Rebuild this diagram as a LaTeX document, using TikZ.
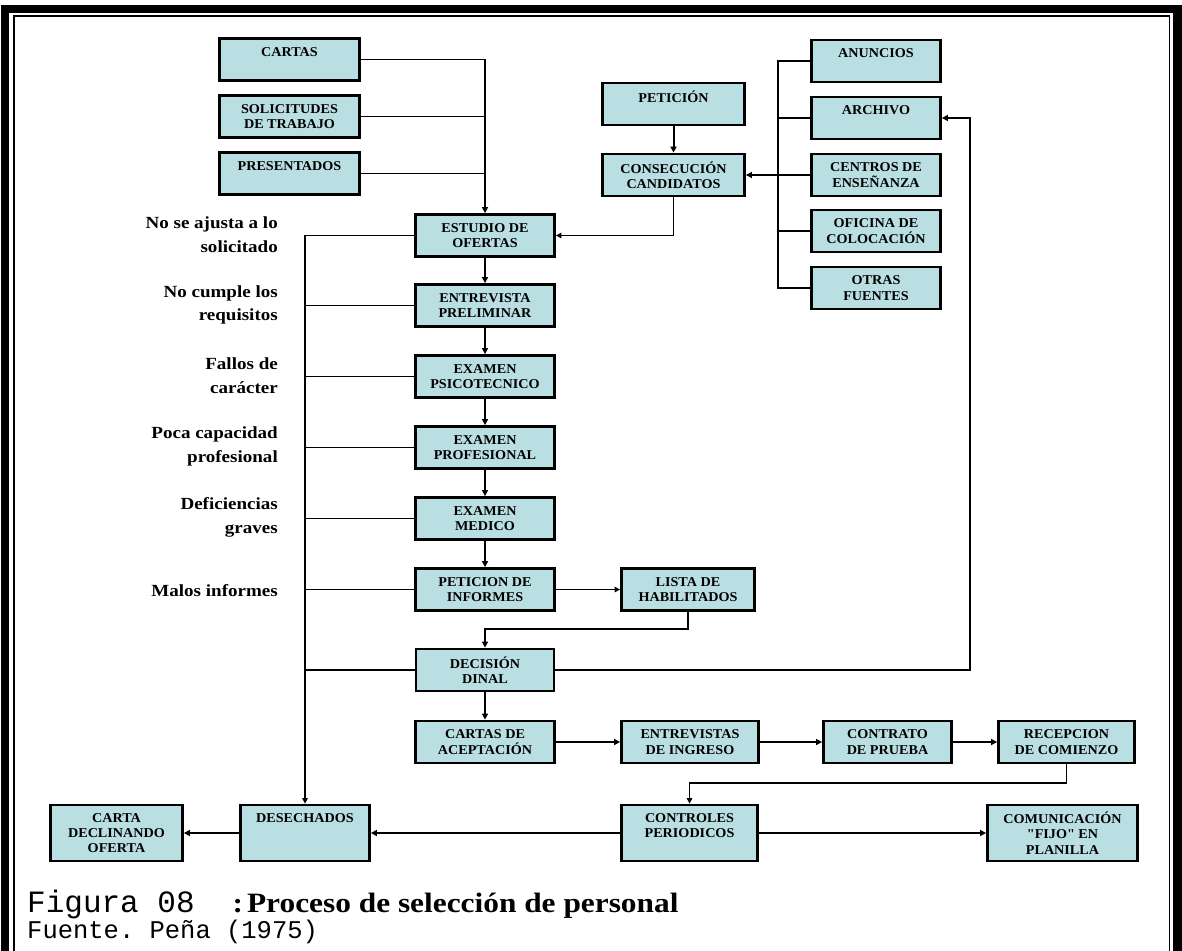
\documentclass[tikz,border=0pt]{standalone}
\usepackage{fontspec}
\setmainfont{Liberation Serif}
\setmonofont{Liberation Mono}
\newfontfamily\lblfont[FakeStretch=1.12]{Liberation Serif}
\newfontfamily\boxfont[FakeStretch=1.05]{Liberation Serif}
\newfontfamily\capfont[FakeStretch=1.12]{Liberation Serif}
\usetikzlibrary{arrows.meta}
\definecolor{boxfill}{RGB}{185,223,227}
\tikzset{
  stage/.style={draw=black, line width=2.8pt, fill=boxfill, inner sep=0pt,
    minimum width=139pt, minimum height=42pt, align=center,
    font=\boxfont\bfseries\fontsize{13.5}{15.3}\selectfont},
  tall/.style={minimum height=56pt},
  reason/.style={anchor=east, inner sep=0pt, align=right,
    font=\lblfont\bfseries\fontsize{17}{23.5}\selectfont},
  flow/.style={line width=2pt, -{Triangle[length=6pt,width=6pt]}},
  thinflow/.style={line width=1.2pt, -{Triangle[length=5.5pt,width=5.5pt]}},
  bus/.style={line width=2pt},
  feed/.style={line width=1.2pt},
}
\begin{document}
\begin{tikzpicture}[x=1pt,y=-1pt]
\useasboundingbox (0,0) rectangle (1182,950);
\clip (0,0) rectangle (1182,950);

% double frame, open at the bottom
\draw[line width=8.5pt] (5,960) -- (5,9) -- (1177.5,9) -- (1177.5,960);
\draw[line width=1.8pt] (14.3,960) -- (14.3,16) -- (1169.5,16) -- (1169.5,960);

% incoming applications
\node[stage, minimum width=140pt] (cartas)  at (289.5,59.5)  {CARTAS\\\mbox{}};
\node[stage, minimum width=140pt] (solic)   at (289.5,116.5) {SOLICITUDES\\DE TRABAJO};
\node[stage, minimum width=140pt] (present) at (289.5,173.5) {PRESENTADOS\\\mbox{}};

% recruitment sources
\node[stage, minimum width=129pt] (anuncios) at (876,61)  {ANUNCIOS\\\mbox{}};
\node[stage, minimum width=129pt] (archivo)  at (876,118) {ARCHIVO\\\mbox{}};
\node[stage, minimum width=129pt] (centros)  at (876,175) {CENTROS DE\\ENSEÑANZA};
\node[stage, minimum width=129pt] (oficina)  at (876,231) {OFICINA DE\\COLOCACIÓN};
\node[stage, minimum width=129pt] (otras)    at (876,288) {OTRAS\\FUENTES};

\node[stage, minimum width=142pt] (peticion) at (673.5,104) {PETICIÓN\\\mbox{}};
\node[stage, minimum width=142pt] (consec)   at (673.5,175) {CONSECUCIÓN\\CANDIDATOS};

% main selection sequence
\node[stage] (estudio)  at (485,235.5) {ESTUDIO DE\\OFERTAS};
\node[stage] (entrev)   at (485,305.5) {ENTREVISTA\\PRELIMINAR};
\node[stage] (psico)    at (485,376.5) {EXAMEN\\PSICOTECNICO};
\node[stage] (profes)   at (485,447.5) {EXAMEN\\PROFESIONAL};
\node[stage] (medico)   at (485,518.5) {EXAMEN\\MEDICO};
\node[stage] (petinf)   at (485,589.5) {PETICION DE\\INFORMES};
\node[stage, minimum width=133pt] (lista) at (688,589.5) {LISTA DE\\HABILITADOS};
\node[stage, minimum width=138pt] (decision) at (485,670) {DECISIÓN\\DINAL};

% hiring sequence
\node[stage] (cartasac) at (485,742) {CARTAS DE\\ACEPTACIÓN};
\node[stage, minimum width=137pt] (entring)  at (690,742)    {ENTREVISTAS\\DE INGRESO};
\node[stage, minimum width=128pt] (contrato) at (887.5,742)  {CONTRATO\\DE PRUEBA};
\node[stage, minimum width=136pt] (recep)    at (1066.5,742) {RECEPCION\\DE COMIENZO};

% bottom row
\node[stage, tall, minimum width=136pt] (controles) at (689.5,833)  {CONTROLES\\PERIODICOS\\\mbox{}};
\node[stage, tall, minimum width=150pt] (comunic)   at (1062.5,833) {COMUNICACIÓN\\"FIJO" EN\\PLANILLA};
\node[stage, tall, minimum width=129pt] (desech)    at (305,833)    {DESECHADOS\\\mbox{}\\\mbox{}};
\node[stage, tall, minimum width=132pt] (cartadecl) at (116.5,833)  {CARTA\\DECLINANDO\\OFERTA};

% rejection reasons
\node[reason] (r1) at (278,234.5) {No se ajusta a lo\\solicitado};
\node[reason] (r2) at (278,305)   {No cumple los\\requisitos};
\node[reason] (r3) at (278,375.5) {Fallos de\\carácter};
\node[reason] (r4) at (278,446.5) {Poca capacidad\\profesional};
\node[reason] (r5) at (278,517.5) {Deficiencias\\graves};
\node[reason] (r6) at (278,591)   {Malos informes};

% helper points for routed connectors
\coordinate (fb)  at (970,118);
\coordinate (ret) at (0,629);
\coordinate (rc)  at (0,783);
\coordinate (br)  at (778,0);

% applications merge into the study of offers
\draw[feed] (cartas.east) -- (cartas.east -| estudio.north);
\draw[feed] (solic.east) -- (solic.east -| estudio.north);
\draw[feed] (present.east) -- (present.east -| estudio.north);
\draw[flow] (cartas.east -| estudio.north) -- (estudio.north);

% sources bracket
\draw[bus] (anuncios.west) -- (anuncios.west -| br) -- (otras.west -| br) -- (otras.west);
\draw[bus] (archivo.west) -- (archivo.west -| br);
\draw[bus] (oficina.west) -- (oficina.west -| br);
\draw[flow] (centros.west) -- (consec.east);
\draw[flow] (peticion.south) -- (consec.north);
\draw[thinflow] (consec.south) |- (estudio.east);

% selection steps
\draw[flow] (estudio.south) -- (entrev.north);
\draw[flow] (entrev.south) -- (psico.north);
\draw[flow] (psico.south) -- (profes.north);
\draw[flow] (profes.south) -- (medico.north);
\draw[flow] (medico.south) -- (petinf.north);
\draw[thinflow] (petinf.east) -- (lista.west);
\draw[flow] (lista.south) -- (lista.south |- ret) -| (decision.north);
\draw[flow] (decision.east) -| (fb) -- (archivo.east);
\draw[flow] (decision.south) -- (cartasac.north);

% rejections
\draw[thinflow] (estudio.west) -| (desech.north);
\draw[feed] (entrev.west) -- (entrev.west -| desech.north);
\draw[feed] (psico.west) -- (psico.west -| desech.north);
\draw[feed] (profes.west) -- (profes.west -| desech.north);
\draw[feed] (medico.west) -- (medico.west -| desech.north);
\draw[feed] (petinf.west) -- (petinf.west -| desech.north);
\draw[feed] (decision.west) -- (decision.west -| desech.north);

% hiring
\draw[flow] (cartasac.east) -- (entring.west);
\draw[flow] (entring.east) -- (contrato.west);
\draw[flow] (contrato.east) -- (recep.west);
\draw[thinflow] (recep.south) -- (recep.south |- rc) -| (controles.north);
\draw[flow] (controles.west) -- (desech.east);
\draw[flow] (controles.east) -- (comunic.west);
\draw[flow] (desech.west) -- (cartadecl.east);

% caption
\node[anchor=base west, inner sep=0pt] (caption) at (27,912)
  {{\ttfamily\fontsize{31}{31}\selectfont Figura 08}\hspace{38pt}%
   {\capfont\bfseries\fontsize{28}{28}\selectfont :\hspace{4pt}Proceso de selección de personal}};
\node[anchor=base west, inner sep=0pt] (source) at (27,938)
  {\ttfamily\fontsize{25.5}{25.5}\selectfont Fuente. Peña (1975)};
\end{tikzpicture}
\end{document}
